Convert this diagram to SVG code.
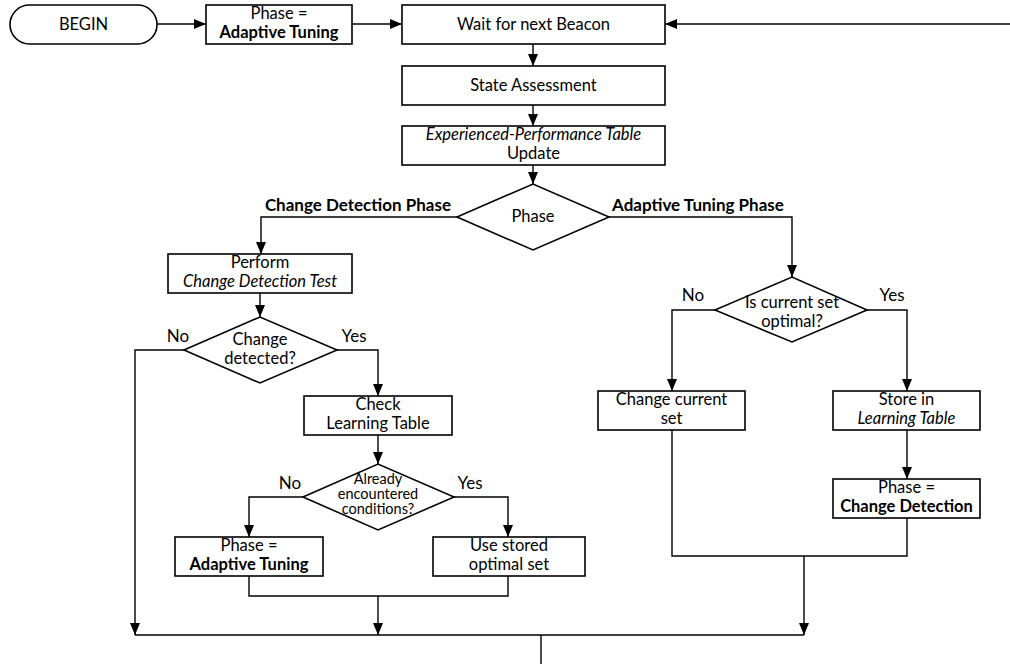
<svg xmlns="http://www.w3.org/2000/svg" width="1010" height="664" viewBox="0 0 1010 664">
<defs>
<marker id="arr" markerUnits="userSpaceOnUse" markerWidth="12" markerHeight="10" refX="12" refY="5" orient="auto">
<path d="M0,0 L12,5 L0,10 z" fill="#000"/>
</marker>
<style>
.box{fill:#fff;stroke:#000;stroke-width:1.6}
.t{font-family:Lato,"Open Sans","Noto Sans",sans-serif;font-size:16.5px;fill:#000;text-anchor:middle}
.s{font-size:14.5px}
.b{font-weight:bold}
.i{font-style:italic}
.lbl{font-family:Lato,"Open Sans","Noto Sans",sans-serif;font-size:17px;fill:#000}
.c{fill:none;stroke:#000;stroke-width:1.4}
</style>
</defs>
<rect width="1010" height="664" fill="#fff"/>
<g id="connectors">
<path class="c" d="M157,24 H206" marker-end="url(#arr)"/>
<path class="c" d="M352,24 H402" marker-end="url(#arr)"/>
<path class="c" d="M1010,24 H665" marker-end="url(#arr)"/>
<path class="c" d="M533,44 V66" marker-end="url(#arr)"/>
<path class="c" d="M533,105 V126" marker-end="url(#arr)"/>
<path class="c" d="M533,165 V184" marker-end="url(#arr)"/>
<path class="c" d="M457,217 H261 V254" marker-end="url(#arr)"/>
<path class="c" d="M609,217 H792 V277" marker-end="url(#arr)"/>
<path class="c" d="M260,293 V317" marker-end="url(#arr)"/>
<path class="c" d="M184,350 H135 V635" marker-end="url(#arr)"/>
<path class="c" d="M337,350 H378 V396" marker-end="url(#arr)"/>
<path class="c" d="M378,435 V464" marker-end="url(#arr)"/>
<path class="c" d="M303,497 H249 V537" marker-end="url(#arr)"/>
<path class="c" d="M454,497 H508 V537" marker-end="url(#arr)"/>
<path class="c" d="M249,576 V596 H508 V576"/>
<path class="c" d="M378,596 V635" marker-end="url(#arr)"/>
<path class="c" d="M715,310 H672 V391" marker-end="url(#arr)"/>
<path class="c" d="M867,310 H907 V391" marker-end="url(#arr)"/>
<path class="c" d="M907,430 V479" marker-end="url(#arr)"/>
<path class="c" d="M672,430 V556 H907 V518"/>
<path class="c" d="M804,556 V635" marker-end="url(#arr)"/>
<path class="c" d="M135,635 H804"/>
<path class="c" d="M541,635 V664"/>
<text class="lbl b" x="451" y="211" text-anchor="end">Change Detection Phase</text>
<text class="lbl b" x="612" y="211">Adaptive Tuning Phase</text>
<text class="lbl" x="178" y="342" text-anchor="middle">No</text>
<text class="lbl" x="354" y="342" text-anchor="middle">Yes</text>
<text class="lbl" x="290" y="489" text-anchor="middle">No</text>
<text class="lbl" x="470" y="489" text-anchor="middle">Yes</text>
<text class="lbl" x="693" y="301" text-anchor="middle">No</text>
<text class="lbl" x="892" y="301" text-anchor="middle">Yes</text>
</g>
<g id="begin">
<rect class="box" x="10" y="5" width="147" height="39" rx="19.5"/>
<text class="t" x="83.5" y="30">BEGIN</text>
</g>
<g id="phase-at-top">
<rect class="box" x="206" y="5" width="146" height="39"/>
<text class="t" x="279" y="19">Phase =</text>
<text class="t b" x="279" y="38">Adaptive Tuning</text>
</g>
<g id="wait">
<rect class="box" x="402" y="5" width="263" height="39"/>
<text class="t" x="533.5" y="30">Wait for next Beacon</text>
</g>
<g id="state">
<rect class="box" x="402" y="66" width="263" height="39"/>
<text class="t" x="533.5" y="91">State Assessment</text>
</g>
<g id="ept">
<rect class="box" x="402" y="126" width="263" height="39"/>
<text class="t i" x="533.5" y="140">Experienced-Performance Table</text>
<text class="t" x="533.5" y="159">Update</text>
</g>
<g id="phase">
<polygon class="box" points="457,217 533,184 609,217 533,250"/>
<text class="t" x="533" y="222">Phase</text>
</g>
<g id="perform">
<rect class="box" x="168" y="254" width="184" height="39"/>
<text class="t" x="260" y="268">Perform</text>
<text class="t i" x="260" y="287">Change Detection Test</text>
</g>
<g id="change-detected">
<polygon class="box" points="184,350 260,317 337,350 260,383"/>
<text class="t" x="260" y="345">Change</text>
<text class="t" x="260" y="364">detected?</text>
</g>
<g id="check">
<rect class="box" x="304" y="396" width="148" height="39"/>
<text class="t" x="378" y="410">Check</text>
<text class="t" x="378" y="429">Learning Table</text>
</g>
<g id="already">
<polygon class="box" points="303,497 378,464 454,497 378,530"/>
<text class="t s" x="378" y="484">Already</text>
<text class="t s" x="378" y="499">encountered</text>
<text class="t s" x="378" y="514">conditions?</text>
</g>
<g id="phase-at-left">
<rect class="box" x="175" y="537" width="148" height="39"/>
<text class="t" x="249" y="551">Phase =</text>
<text class="t b" x="249" y="570">Adaptive Tuning</text>
</g>
<g id="use-stored">
<rect class="box" x="433" y="537" width="152" height="39"/>
<text class="t" x="509" y="551">Use stored</text>
<text class="t" x="509" y="570">optimal set</text>
</g>
<g id="is-optimal">
<polygon class="box" points="715,310 792,277 867,310 792,342"/>
<text class="t" x="792" y="308">Is current set</text>
<text class="t" x="792" y="327">optimal?</text>
</g>
<g id="change-set">
<rect class="box" x="598" y="391" width="147" height="39"/>
<text class="t" x="671.5" y="405">Change current</text>
<text class="t" x="671.5" y="424">set</text>
</g>
<g id="store">
<rect class="box" x="833" y="391" width="147" height="39"/>
<text class="t" x="906.5" y="405">Store in</text>
<text class="t i" x="906.5" y="424">Learning Table</text>
</g>
<g id="phase-cd">
<rect class="box" x="833" y="479" width="147" height="39"/>
<text class="t" x="906.5" y="493">Phase =</text>
<text class="t b" x="906.5" y="512">Change Detection</text>
</g>
</svg>
